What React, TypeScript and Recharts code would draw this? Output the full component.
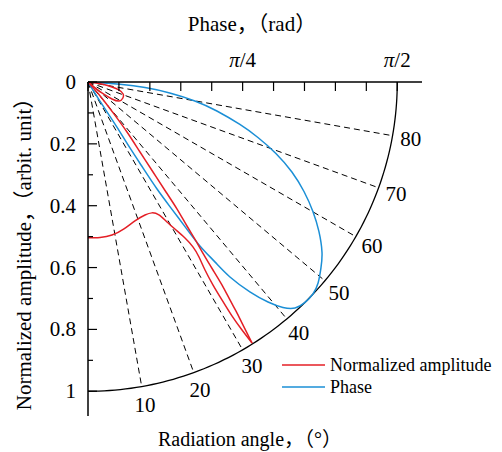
import React from 'react';
import { ComposedChart, Line, XAxis, YAxis, ReferenceLine, ReferenceDot, Legend } from 'recharts';

// ---------- data ----------
// Normalized amplitude, polar: radiation angle (deg) -> amplitude; main lobe, rising branch
const ampRiseAngle = [0, 4.41, 8.91, 13.76, 18.68, 23.2, 26.04, 28.09, 29.43, 30.74, 31.87, 32.47, 32.39, 31.9, 31.63, 31.58, 31.61, 31.84, 32.15];
const ampRiseValue = [0.504, 0.504, 0.501, 0.489, 0.474, 0.468, 0.471, 0.487, 0.52, 0.557, 0.594, 0.632, 0.67, 0.716, 0.771, 0.827, 0.888, 0.944, 0.997];
// main lobe, falling branch
const ampFallAngle = [32.15, 32.58, 32.87, 33.08, 33.43, 33.62, 33.84, 34.19, 34.5, 35.02, 35.34, 35.84, 36.6, 37.95, 39.09, 40.91, 42];
const ampFallValue = [0.997, 0.925, 0.882, 0.841, 0.786, 0.73, 0.673, 0.621, 0.565, 0.501, 0.436, 0.359, 0.282, 0.205, 0.133, 0.064, 0];
// side lobe
const ampSideAngle = [48, 51, 52.6, 54.7, 58.5, 65.4, 71.1, 75.5, 78.2, 81.1, 82.9, 88];
const ampSideValue = [0, 0.035, 0.069, 0.095, 0.118, 0.124, 0.12, 0.103, 0.079, 0.052, 0.026, 0];

// Phase (rad), polar: radiation angle (deg) -> phase
const phaseAngle = [30, 32.0, 32.47, 32.62, 32.47, 32.6, 32.82, 33.37, 33.87, 34.33, 35.2, 36.06, 37.65, 39.29, 40.85, 42.49, 44.48, 46.7, 48.85, 51.4, 54.0, 57.09, 60.08, 63.11, 66.19, 69.18, 71.92, 74.38, 77.33, 79.93, 82.36, 84.49, 85.89, 86.66, 88];
const phaseValue = [0, 0.096, 0.198, 0.302, 0.397, 0.518, 0.647, 0.767, 0.894, 1.008, 1.118, 1.225, 1.346, 1.444, 1.514, 1.557, 1.571, 1.57, 1.552, 1.514, 1.469, 1.397, 1.318, 1.23, 1.132, 1.021, 0.908, 0.801, 0.671, 0.551, 0.419, 0.291, 0.163, 0.061, 0];
const PHASE_FULL = Math.PI / 2; // phase that maps to the unit radius

// axes
const xTicks = [0, 0.1, 0.2, 0.3, 0.4, 0.5, 0.6, 0.7, 0.8, 0.9, 1.0];
const xTickLabels = ['', '', '', '', '', 'π/4', '', '', '', '', 'π/2'];
const yTicks = [0, 0.1, 0.2, 0.3, 0.4, 0.5, 0.6, 0.7, 0.8, 0.9, 1.0];
const yTickLabels = ['0', '', '0.2', '', '0.4', '', '0.6', '', '0.8', '', '1'];
const angleTicks = [10, 20, 30, 40, 50, 60, 70, 80];
const angleTickLabels = ['10', '20', '30', '40', '50', '60', '70', '80'];

const legendNames = ['Normalized amplitude', 'Phase'];

// ---------- style ----------
const FONT = 'Liberation Serif, Noto Sans CJK SC, DejaVu Serif, serif';
const RED = '#e41f26';
const BLUE = '#1b8fd6';
const DOMAIN: [number, number] = [0, 1.08];

const rad = (d: number) => (d * Math.PI) / 180;
const polar = (angles: number[], values: number[], scale = 1) =>
  angles.map((a, i) => ({ x: (values[i] / scale) * Math.sin(rad(a)), y: (values[i] / scale) * Math.cos(rad(a)) }));

const ampRise = polar(ampRiseAngle, ampRiseValue);
const ampFall = polar(ampFallAngle, ampFallValue);
const ampSide = polar(ampSideAngle, ampSideValue);
const phasePts = polar(phaseAngle, phaseValue, PHASE_FULL);

const arcAngles: number[] = [];
for (let a = 0; a <= 90; a += 1) arcAngles.push(a);
const arcPts = polar(arcAngles, arcAngles.map(() => 1));

const findIdx = (arr: number[], v: number) => arr.findIndex((t) => Math.abs(t - v) < 1e-6);

const XTick = (props: any) => {
  const { x, y, payload } = props;
  const i = findIdx(xTicks, payload.value);
  const lab = i >= 0 ? xTickLabels[i] : '';
  return (
    <g>
      <line x1={x} x2={x} y1={y} y2={y + 9} stroke="#000" strokeWidth={1.2} />
      {lab && (
        <text x={x} y={y - 15} textAnchor="middle" style={{ fontFamily: FONT }} fontSize={21} fill="#000">
          <tspan fontStyle="italic">{lab[0]}</tspan>
          {lab.slice(1)}
        </text>
      )}
    </g>
  );
};

const YTick = (props: any) => {
  const { x, y, payload } = props;
  const i = findIdx(yTicks, payload.value);
  const lab = i >= 0 ? yTickLabels[i] : '';
  return (
    <g>
      <line x1={x} x2={x + (lab ? 9 : 5)} y1={y} y2={y} stroke="#000" strokeWidth={1.2} />
      {lab && (
        <text x={x - 12} y={y} textAnchor="end" dominantBaseline="central" style={{ fontFamily: FONT }} fontSize={21} fill="#000">
          {lab}
        </text>
      )}
    </g>
  );
};

const TopTitle = (props: any) => {
  const vb = props.viewBox || { x: 88, y: 0, width: 334, height: 82 };
  return (
    <text x={vb.x + vb.width / 2 - 3} y={vb.y + 31} textAnchor="middle" style={{ fontFamily: FONT }} fontSize={21} fill="#000">
      Phase，（rad）
    </text>
  );
};

const BottomTitle = (props: any) => {
  const vb = props.viewBox || { x: 88, y: 416, width: 334, height: 36 };
  return (
    <text x={vb.x + vb.width / 2 - 5} y={vb.y + 30} textAnchor="middle" style={{ fontFamily: FONT }} fontSize={20} fill="#000">
      Radiation angle，（°）
    </text>
  );
};

const LeftTitle = (props: any) => {
  const vb = props.viewBox || { x: 8, y: 82, width: 80, height: 334 };
  const cx = vb.x + 16;
  const cy = vb.y + vb.height / 2;
  return (
    <text
      x={cx}
      y={cy}
      transform={`rotate(-90, ${cx}, ${cy})`}
      textAnchor="middle"
      dominantBaseline="central"
      style={{ fontFamily: FONT }}
      fontSize={21}
      fill="#000"
    >
      Normalized amplitude，（arbit. unit）
    </text>
  );
};

const renderLegend = () => (
  <div style={{ fontFamily: FONT, fontSize: 18, color: '#000', whiteSpace: 'nowrap' }}>
    {legendNames.map((n, i) => (
      <div key={n} style={{ display: 'flex', alignItems: 'center', height: 22 }}>
        <svg width={43} height={6} style={{ display: 'block' }}>
          <line x1={0} x2={43} y1={3} y2={3} stroke={i === 0 ? RED : BLUE} strokeWidth={1.5} />
        </svg>
        <span style={{ marginLeft: 5 }}>{n}</span>
      </div>
    ))}
  </div>
);

export default function App() {
  return (
    <div style={{ position: 'absolute', left: 0, top: 0, width: 502, height: 452, background: '#fff', fontFamily: FONT }}>
      <ComposedChart width={502} height={452} margin={{ top: 0, right: 80, bottom: 0, left: 8 }} style={{ fontFamily: FONT }}>
        <XAxis
          xAxisId={0}
          orientation="top"
          type="number"
          dataKey="x"
          domain={DOMAIN}
          ticks={xTicks}
          interval={0}
          allowDataOverflow
          height={82}
          tickLine={false}
          tickSize={0}
          tickMargin={0}
          tick={<XTick />}
          axisLine={{ stroke: '#000', strokeWidth: 1.5 }}
          label={(p: any) => <TopTitle {...p} />}
        />
        <XAxis
          xAxisId="b"
          orientation="bottom"
          type="number"
          dataKey="x"
          domain={DOMAIN}
          height={36}
          axisLine={false}
          tickLine={false}
          tick={false}
          label={(p: any) => <BottomTitle {...p} />}
        />
        <YAxis
          type="number"
          dataKey="y"
          domain={DOMAIN}
          reversed
          ticks={yTicks}
          interval={0}
          allowDataOverflow
          width={80}
          tickLine={false}
          tickSize={0}
          tickMargin={0}
          tick={<YTick />}
          axisLine={{ stroke: '#000', strokeWidth: 1.5 }}
          label={(p: any) => <LeftTitle {...p} />}
        />

        {angleTicks.map((a) => (
          <ReferenceLine
            key={'rl' + a}
            segment={[
              { x: 0, y: 0 },
              { x: Math.sin(rad(a)), y: Math.cos(rad(a)) },
            ]}
            stroke="#000"
            strokeWidth={1}
            strokeDasharray="6 4"
            ifOverflow="visible"
          />
        ))}
        {angleTicks.map((a, i) => (
          <ReferenceDot
            key={'rd' + a}
            x={1.06 * Math.sin(rad(a))}
            y={1.06 * Math.cos(rad(a))}
            r={0}
            ifOverflow="visible"
            shape={(p: any) => (
              <text x={p.cx} y={p.cy} textAnchor="middle" dominantBaseline="central" style={{ fontFamily: FONT }} fontSize={21} fill="#000">
                {angleTickLabels[i]}
              </text>
            )}
          />
        ))}

        <Line data={arcPts} dataKey="y" type="linear" stroke="#000" strokeWidth={1.3} dot={false} isAnimationActive={false} legendType="none" />
        <Line data={phasePts} dataKey="y" name="Phase" type="natural" stroke={BLUE} strokeWidth={1.5} dot={false} isAnimationActive={false} />
        <Line data={ampRise} dataKey="y" name="Normalized amplitude" type="natural" stroke={RED} strokeWidth={1.5} dot={false} isAnimationActive={false} />
        <Line data={ampFall} dataKey="y" type="natural" stroke={RED} strokeWidth={1.5} dot={false} isAnimationActive={false} legendType="none" />
        <Line data={ampSide} dataKey="y" type="natural" stroke={RED} strokeWidth={1.5} dot={false} isAnimationActive={false} legendType="none" />

        <Legend
          layout="vertical"
          align="center"
          verticalAlign="middle"
          content={renderLegend}
          wrapperStyle={{ left: 282, top: 354, width: 220 }}
        />
      </ComposedChart>
    </div>
  );
}
